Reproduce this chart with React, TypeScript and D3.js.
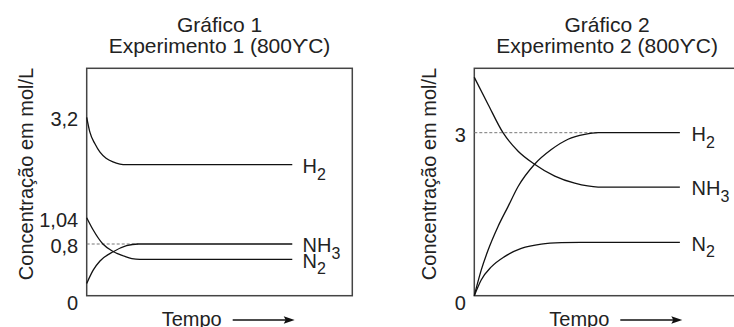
import React, { useEffect, useRef } from "react";
import * as d3 from "d3";

// time in arbitrary units, concentration in mol/L
const g1H2: [number, number][] = [[0, 3.2], [0.12, 2.88], [0.31, 2.63], [0.5, 2.45], [0.73, 2.32], [0.99, 2.24], [1.25, 2.195], [1.48, 2.18], [7.74, 2.18]];
const g1N2: [number, number][] = [[0, 1.04], [0.24, 0.93], [0.61, 0.8], [1.0, 0.684], [1.44, 0.607], [1.7, 0.575], [2.0, 0.563], [7.74, 0.563]];
const g1NH3: [number, number][] = [[0, 0.19], [0.25, 0.4], [0.5, 0.537], [1.0, 0.681], [1.5, 0.774], [1.94, 0.8], [7.74, 0.8]];

const g2H2: [number, number][] = [[0, 0], [0.26, 0.47], [0.52, 0.84], [0.89, 1.27], [1.27, 1.64], [1.65, 2.01], [2.27, 2.42], [2.9, 2.69], [3.53, 2.88], [4.16, 2.97], [4.66, 3.0], [7.74, 3.0]];
const g2NH3: [number, number][] = [[0, 4.02], [0.52, 3.52], [1.08, 3.0], [1.65, 2.66], [2.27, 2.42], [3.03, 2.2], [3.78, 2.07], [4.66, 2.0], [7.74, 2.0]];
const g2N2: [number, number][] = [[0, 0], [0.26, 0.29], [0.64, 0.53], [1.14, 0.72], [1.77, 0.87], [2.52, 0.95], [3.28, 0.975], [4.0, 0.98], [7.74, 0.98]];

const g1Ticks = [0, 0.8, 1.04, 3.2];
const g1TickLabels = ["0", "0,8", "1,04", "3,2"];
const g2Ticks = [0, 3];
const g2TickLabels = ["0", "3"];

// dashed guide: [value, end time]
const g1Guide: [number, number] = [0.8, 1.94];
const g2Guide: [number, number] = [3, 4.66];

const g1Labels = [["H", "2"], ["NH", "3"], ["N", "2"]];
const g2Labels = [["H", "2"], ["NH", "3"], ["N", "2"]];

const FONT = "'Liberation Sans', Arial, Helvetica, sans-serif";

const App = () => {
  const ref = useRef<SVGSVGElement>(null);

  useEffect(() => {
    const svg = d3.select(ref.current);
    svg.selectAll("*").remove();

    const top = 68.3, bottom = 295.7;

    const charts = [
      {
        title: "Gráfico 1", sub: "Experimento 1 (800ϒC)",
        left: 86.7, right: 352.3,
        y: d3.scaleLinear().domain([0, 0.8, 1.04, 3.2]).range([bottom, 244, 217.7, 117.3]),
        series: [g1H2, g1NH3, g1N2], labels: g1Labels,
        ticks: g1Ticks, tickLabels: g1TickLabels, guide: g1Guide,
        ytitleX: 32.5, labelGap: 10.3,
      },
      {
        title: "Gráfico 2", sub: "Experimento 2 (800ϒC)",
        left: 474.3, right: 739.9,
        y: d3.scaleLinear().domain([0, 3]).range([bottom, 132.7]),
        series: [g2H2, g2NH3, g2N2], labels: g2Labels,
        ticks: g2Ticks, tickLabels: g2TickLabels, guide: g2Guide,
        ytitleX: 435.5, labelGap: 11.7,
      },
    ];

    charts.forEach(c => {
      const x = d3.scaleLinear().domain([0, 10]).range([c.left, c.right]);
      const y = c.y;
      const g = svg.append("g").style("font-family", FONT);
      const cx = (c.left + c.right) / 2;

      g.append("text").attr("x", cx).attr("y", 31.7).attr("text-anchor", "middle")
        .attr("font-size", 21).attr("fill", "#222").text(c.title);
      g.append("text").attr("x", cx).attr("y", 53.3).attr("text-anchor", "middle")
        .attr("font-size", 21).attr("fill", "#222").text(c.sub);

      // frame
      g.append("rect").attr("x", c.left).attr("y", top)
        .attr("width", c.right - c.left).attr("height", bottom - top)
        .attr("fill", "none").attr("stroke", "#444").attr("stroke-width", 1.5);

      // dashed guide
      g.append("line")
        .attr("x1", x(0)).attr("x2", x(c.guide[1]))
        .attr("y1", y(c.guide[0])).attr("y2", y(c.guide[0]))
        .attr("stroke", "#777").attr("stroke-width", 1).attr("stroke-dasharray", "3,2");

      const line = d3.line<[number, number]>()
        .x(d => x(d[0])).y(d => y(d[1]))
        .curve(d3.curveMonotoneX);

      c.series.forEach((s, i) => {
        g.append("path").attr("d", line(s)).attr("fill", "none")
          .attr("stroke", "#111").attr("stroke-width", 1.3);
        const last = s[s.length - 1];
        const t = g.append("text").attr("x", x(last[0]) + c.labelGap).attr("y", y(last[1]) + 8.3)
          .attr("font-size", 20).attr("fill", "#222");
        t.append("tspan").text(c.labels[i][0]);
        t.append("tspan").attr("font-size", 16).attr("dy", 6.7).text(c.labels[i][1]);
      });

      // tick labels
      c.ticks.forEach((v, i) => {
        g.append("text").attr("x", c.left - 8.5)
          .attr("y", y(v) + (v === 0 ? 7.5 : 2)).attr("dy", "0.35em")
          .attr("text-anchor", "end").attr("font-size", 20).attr("fill", "#222")
          .text(c.tickLabels[i]);
      });

      // y title
      g.append("text")
        .attr("transform", `translate(${c.ytitleX},174) rotate(-90)`)
        .attr("text-anchor", "middle").attr("font-size", 20).attr("fill", "#222")
        .text("Concentração em mol/L");

      // x title + arrow
      g.append("text").attr("x", c.left + 75).attr("y", 326)
        .attr("font-size", 20).attr("fill", "#222").text("Tempo");
      const ax0 = c.left + 146, ax1 = c.left + 208, ay = 320;
      g.append("line").attr("x1", ax0).attr("x2", ax1 - 6).attr("y1", ay).attr("y2", ay)
        .attr("stroke", "#111").attr("stroke-width", 1.3);
      g.append("path")
        .attr("d", `M${ax1},${ay}L${ax1 - 11},${ay - 3.8}L${ax1 - 9},${ay}L${ax1 - 11},${ay + 3.8}Z`)
        .attr("fill", "#111");
    });
  }, []);

  return (
    <svg ref={ref} width={734} height={327}
      style={{ position: "absolute", left: 0, top: 0, background: "#fff" }} />
  );
};

export default App;
